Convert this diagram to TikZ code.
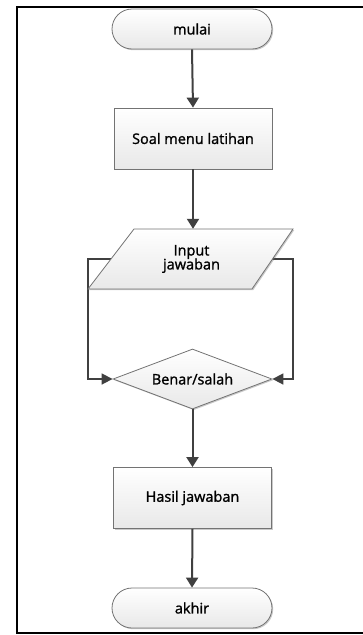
\documentclass[tikz,border=0pt]{standalone}
\usepackage{fontspec}
\setmainfont{Open Sans}
\newfontfamily\flowfont{Open Sans}[FakeBold=1.3]
\usetikzlibrary{shapes.geometric,arrows.meta,shadows}
\begin{document}
\begin{tikzpicture}[x=1pt,y=-1pt,
  font=\flowfont\fontsize{14.5}{16}\selectfont,
  boxfill/.style={top color=white,bottom color=black!9,draw=black!55,line width=0.8pt,
    drop shadow={shadow xshift=1.2pt,shadow yshift=-1.2pt,opacity=0.35,fill=black!60}},
  term/.style={boxfill,rectangle,rounded corners=20pt,minimum width=160pt,minimum height=40pt,inner sep=0pt},
  proc/.style={boxfill,rectangle,minimum width=158pt,minimum height=61pt,inner sep=0pt},
  dec/.style={boxfill,diamond,aspect=2.65,minimum width=159pt,minimum height=60pt,inner sep=0pt},
  flow/.style={draw=black!75,line width=2pt,-{Triangle[width=12pt,length=10pt]}},
  loop/.style={draw=black!75,line width=1.6pt,-{Triangle[width=11pt,length=11pt]}}
]
\useasboundingbox (0,0) rectangle (362,635);
% frame
\draw[line width=2pt,black] (363,7) -- (17,7) -- (17,633) -- (363,633);
% loop coordinates
\coordinate (lt) at (88,259);
\coordinate (lb) at (88,379);
\coordinate (rt) at (293,259);
\coordinate (rb) at (293,379);
% input node (mid-width of the parallelogram)
\node[rectangle,minimum width=161pt,minimum height=60pt,inner sep=0pt] (inp) at (191.5,259) {};
% loops drawn first (hidden behind parallelogram)
\node[dec] (dec) at (192.5,379) {Benar/salah};
\draw[loop] (inp.west) -- (lt) -- (lb) -- (dec.west);
\draw[loop] (inp.east) -- (rt) -- (rb) -- (dec.east);
% parallelogram
\path[boxfill] (134,229) -- (293,229) -- (252,289) -- (88,289) -- cycle;
\node[align=center,inner sep=0pt] at (inp.center) {Input\\[-2pt]jawaban};
% nodes
\node[term] (mulai) at (192,29) {mulai};
\node[proc] (soal) at (193,138.5) {Soal menu latihan};
\node[proc] (hasil) at (192.5,498) {Hasil jawaban};
\node[term] (akhir) at (192,608) {akhir};
% connectors
\draw[flow] (mulai.south) -- (soal.north);
\draw[flow] (soal.south) -- (soal.south |- inp.north);
\draw[flow] (dec.south) -- (hasil.north);
\draw[flow] (hasil.south) -- (akhir.north);
\end{tikzpicture}
\end{document}
